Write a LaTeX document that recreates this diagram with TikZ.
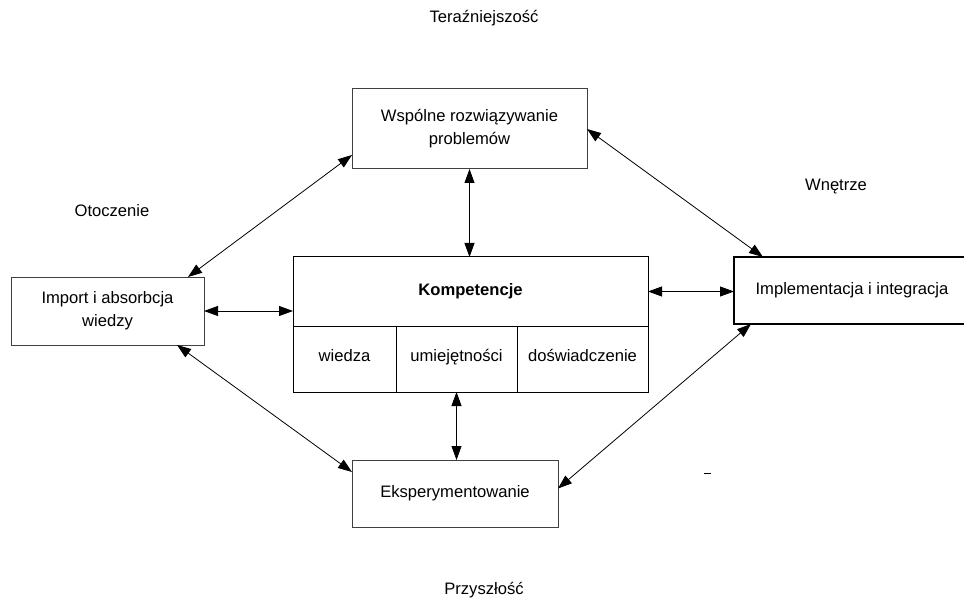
\documentclass[tikz,border=0pt]{standalone}
\usepackage{fontspec}
\setmainfont{Liberation Sans}
\usetikzlibrary{arrows.meta, positioning, calc}

\tikzset{
  box/.style={draw=black!75, line width=1pt, fill=white, align=center, inner sep=0pt, outer sep=0pt},
  cell/.style={box, draw=black, minimum height=66pt, text height=0.75em, text depth=0.25em},
  link/.style={<->, line width=0.8pt},
}

\begin{document}
\begin{tikzpicture}[x=1pt, y=-1pt, >={Triangle[length=14pt, width=10pt]},
    font=\fontsize{16.6}{23}\selectfont]
  \useasboundingbox (0,0) rectangle (964,604);
  % Corner labels
  \node (now) at (484,18) {Teraźniejszość};
  \node (env) at (112,211) {Otoczenie};
  \node (inside) at (836,187) {Wnętrze};
  \node (future) at (484,590) {Przyszłość};
  % Outer boxes
  \node[box, minimum width=235pt, minimum height=80pt] (wsp) at (469.5,129) {Wspólne rozwiązywanie\\problemów};
  \node[box, minimum width=193pt, minimum height=68pt] (imp) at (107.5,311) {Import i absorbcja\\wiedzy};
  \node[box, draw=black, line width=1.6pt, minimum width=236pt, minimum height=67pt] (impl) at (852,290.5) {Implementacja i integracja};
  \node[box, minimum width=206pt, minimum height=67pt] (eks) at (455,493.5) {Eksperymentowanie};
  % Competences with three cells below
  \node[box, draw=black, minimum width=355pt, minimum height=69pt] (komp) at (470.5,291.5) {\bfseries Kompetencje};
  \node[cell, minimum width=103pt, anchor=north west] (wiedza) at (komp.south west) {wiedza};
  \node[cell, minimum width=121pt, right=0pt of wiedza] (umiej) {umiejętności};
  \node[cell, minimum width=131pt, right=0pt of umiej] (dosw) {doświadczenie};
  % Links to the centre
  \draw[link] (wsp.south) -- (wsp.south |- komp.north);
  \draw[link] (imp.east) -- (imp.east -| komp.west);
  \draw[link] (komp.east) -- (komp.east -| impl.west);
  \draw[link] (umiej.south) -- (umiej.south |- eks.north);
  % Links round the outside
  \draw[link] ($(wsp.south west)+(0,-14)$) -- ($(imp.north east)+(-16,0)$);
  \draw[link] (wsp.east) -- ($(impl.north west)+(29,0)$);
  \draw[link] ($(imp.south east)+(-27,0)$) -- ($(eks.north west)+(0,12)$);
  \draw[link] ($(eks.east)+(0,-5)$) -- ($(impl.south west)+(17,0)$);
  % stray mark
  \draw[line width=1pt] (704,473) -- (711,473);
\end{tikzpicture}
\end{document}
